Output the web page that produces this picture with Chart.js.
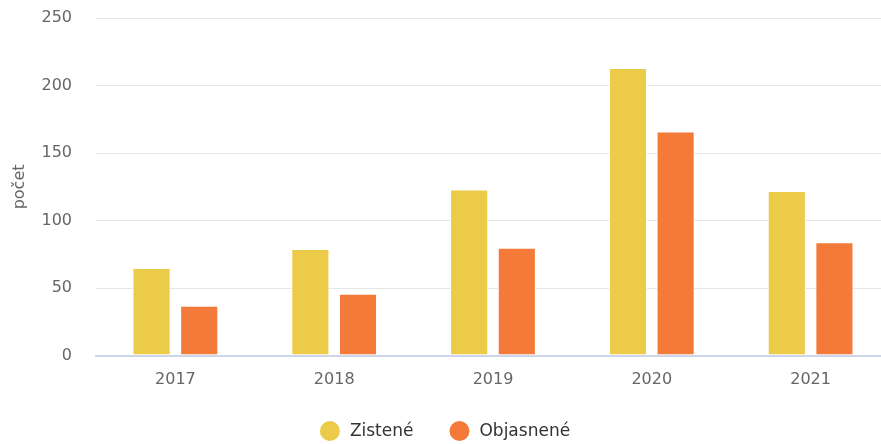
<!DOCTYPE html>
<html>
<head>
<meta charset="utf-8">
<script src="https://cdn.jsdelivr.net/npm/chart.js@4/dist/chart.umd.min.js"></script>
<style>
  html,body{margin:0;padding:0;background:#fff;overflow:hidden}
  #wrap{width:890px;height:444px}
</style>
</head>
<body>
<div id="wrap"><canvas id="chart" width="890" height="444"></canvas></div>
<script>
// data
const years = ['2017','2018','2019','2020','2021'];
const zistene = [65, 79, 123, 213, 122];
const objasnene = [37, 46, 80, 166, 84];
const yTicks = [0, 50, 100, 150, 200, 250];

const FONT = '"DejaVu Sans", sans-serif';

function $(id){return document.getElementById(id)}

// legend drawn by hand (dot, text, wide gap) at the bottom, centred
const dotLegend = {
  id: 'dotLegend',
  afterDraw(chart){
    const ctx = chart.ctx;
    const r = 10, gapText = 10, gapItem = 36;
    const y = chart.height - 13;
    ctx.save();
    ctx.font = '17px ' + FONT;
    ctx.textBaseline = 'middle';
    const items = chart.data.datasets.map(d => ({text: d.label, color: d.backgroundColor, w: ctx.measureText(d.label).width}));
    const total = items.reduce((s,it)=>s + 2*r + gapText + it.w, 0) + gapItem*(items.length-1);
    let x = chart.width/2 - total/2;
    items.forEach(it => {
      ctx.fillStyle = it.color;
      ctx.beginPath();
      ctx.arc(x + r, y, r, 0, Math.PI*2);
      ctx.fill();
      ctx.fillStyle = '#333333';
      ctx.fillText(it.text, x + 2*r + gapText, y + 1);
      x += 2*r + gapText + it.w + gapItem;
    });
    ctx.restore();
  }
};

new Chart($('chart').getContext('2d'), {
  type: 'bar',
  data: {
    labels: years,
    datasets: [
      {label:'Zistené', data:zistene, backgroundColor:'#ebcb48', borderColor:'#ffffff', borderWidth:1, borderSkipped:false},
      {label:'Objasnené', data:objasnene, backgroundColor:'#f47a39', borderColor:'#ffffff', borderWidth:1, borderSkipped:false}
    ]
  },
  plugins: [dotLegend],
  options: {
    responsive: false,
    animation: false,
    categoryPercentage: 0.6,
    barPercentage: 0.8,
    layout: {padding: {top: 18, right: 0, left: 0, bottom: 41}},
    plugins: {
      tooltip: {enabled:false},
      legend: {display: false}
    },
    scales: {
      x: {
        grid: {display: false, drawTicks: false},
        border: {color: '#ccd6eb', width: 2},
        ticks: {color: '#666666', font: {family: FONT, size: 16}, padding: 14}
      },
      y: {
        min: 0, max: 250,
        afterBuildTicks: s => { s.ticks = yTicks.map(v => ({value: v})); },
        afterFit: s => { s.width = 96; s.paddingTop = 0; s.paddingBottom = 0; },
        grid: {color: '#e6e6e6', lineWidth: 1, drawTicks: false},
        border: {display: false},
        ticks: {color: '#666666', font: {family: FONT, size: 16}, padding: 24},
        title: {display: true, text: 'počet', color: '#666666', font: {family: FONT, size: 16}, padding: {top: 10, bottom: 0}}
      }
    }
  }
});
</script>
</body>
</html>
